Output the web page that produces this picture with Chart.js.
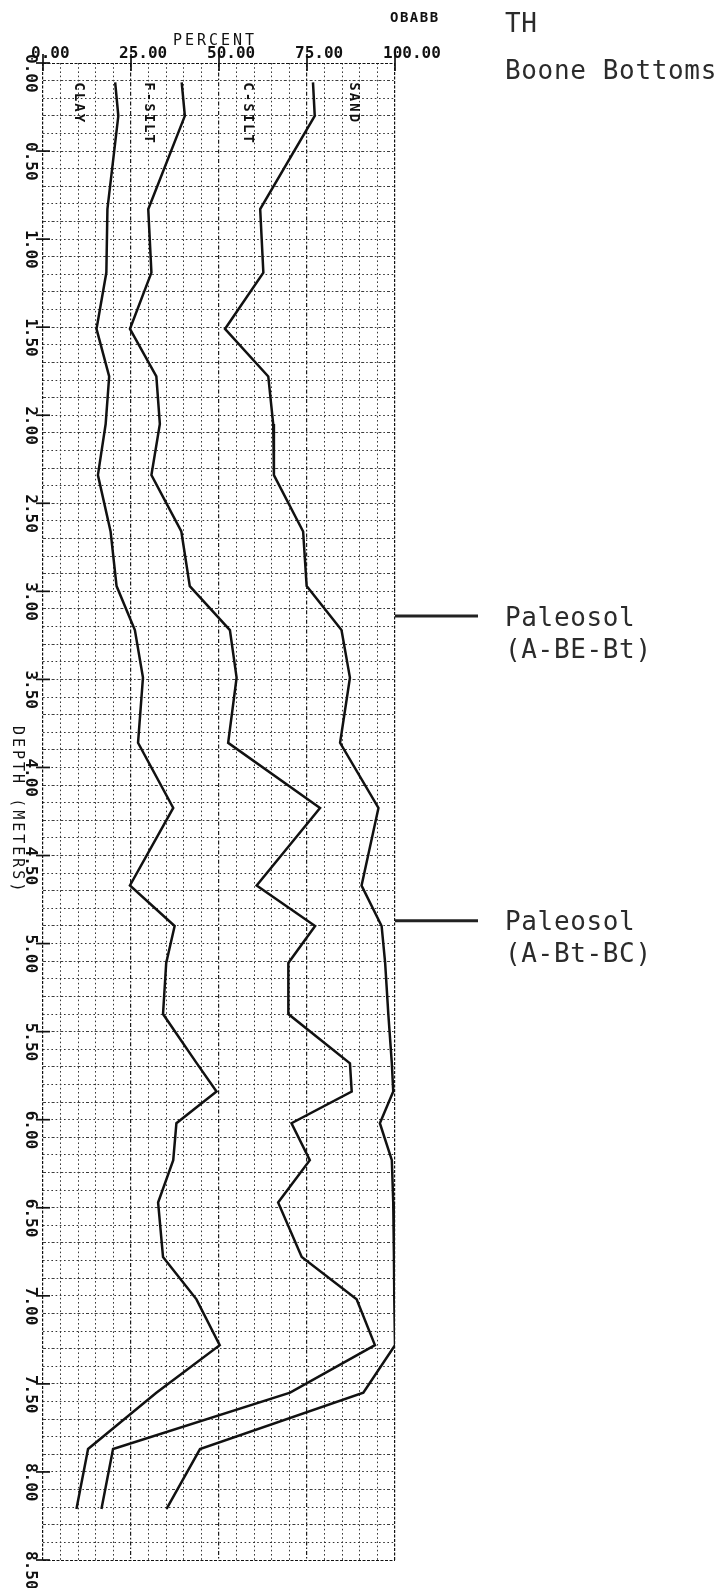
<!DOCTYPE html>
<html>
<head>
<meta charset="utf-8">
<script src="https://cdn.jsdelivr.net/npm/chart.js@4.4.1/dist/chart.umd.min.js"></script>
<style>
html,body{margin:0;padding:0;background:#fff;}
#wrap{position:relative;width:721px;height:1588px;overflow:hidden;background:#fff;}
#c{position:absolute;left:0;top:0;}
.note{position:absolute;left:505px;font-family:"DejaVu Sans Mono",monospace;font-size:26px;line-height:32px;color:#2b2b2b;letter-spacing:0.65px;white-space:pre;}
</style>
</head>
<body>
<div id="wrap">
<canvas id="c" width="721" height="1588"></canvas>
<div class="note" id="h0"></div>
<div class="note" id="h1"></div>
<div class="note" id="p0"></div>
<div class="note" id="p1"></div>
</div>
<script>
// ---- data ----
const depths = [0.11, 0.30, 0.83, 1.19, 1.51, 1.78, 2.05, 2.34, 2.66, 2.97, 3.22, 3.49, 3.86, 4.23, 4.67, 4.90, 5.11, 5.40, 5.68, 5.84, 6.02, 6.23, 6.47, 6.78, 7.02, 7.28, 7.55, 7.87, 8.21];
// cumulative percent: clay
const clayCum = [20.5, 21.4, 18.3, 18.0, 15.2, 18.8, 17.8, 15.6, 19.2, 20.9, 26.1, 28.4, 27.0, 37.0, 24.7, 37.4, 35.0, 34.1, 43.7, 49.3, 37.9, 37.0, 32.7, 34.1, 43.6, 50.2, 32.2, 12.8, 9.5];
// cumulative percent: clay + fine silt
const fineSiltCum = [39.4, 40.3, 29.9, 30.8, 24.7, 32.2, 33.2, 30.8, 39.3, 41.7, 53.1, 55.0, 52.6, 78.7, 60.7, 77.3, 69.7, 69.7, 87.2, 87.7, 70.6, 75.8, 66.8, 73.5, 89.1, 94.3, 70.2, 19.9, 16.6];
// cumulative percent: clay + fine silt + coarse silt
const coarseSiltCum = [76.7, 77.2, 61.7, 62.6, 51.7, 64.0, 65.4, 65.6, 73.9, 74.9, 84.8, 87.2, 84.4, 95.3, 90.5, 96.2, 97.2, 98.1, 99.1, 99.5, 95.7, 99.1, 99.5, 99.7, 99.8, 100, 91.0, 44.6, 35.1];
const bandNames = ['CLAY', 'F-SILT', 'C-SILT', 'SAND'];
const percentTickLabels = ['0.00', '25.00', '50.00', '75.00', '100.00'];
const depthTickLabels = ['0.00','0.50','1.00','1.50','2.00','2.50','3.00','3.50','4.00','4.50','5.00','5.50','6.00','6.50','7.00','7.50','8.00','8.50'];
const xTitle = 'PERCENT';
const yTitle = 'DEPTH (METERS)';
const plotCode = 'OBABB';
const headerLines = ['TH', 'Boone Bottoms'];
const paleosolDepths = [3.14, 4.87];
const paleosolNames = ['Paleosol', 'Paleosol'];
const paleosolHorizons = ['(A-BE-Bt)', '(A-Bt-BC)'];

// ---- build ----
const toPts = arr => arr.map((v, i) => ({x: v, y: depths[i]}));
const lineStyle = {showLine: true, borderColor: '#111', borderWidth: 2.5, pointRadius: 0, tension: 0, fill: false};
const datasets = [
  Object.assign({label: bandNames[0], data: toPts(clayCum)}, lineStyle),
  Object.assign({label: bandNames[1], data: toPts(fineSiltCum)}, lineStyle),
  Object.assign({label: bandNames[2], data: toPts(coarseSiltCum)}, lineStyle)
];

const near = (v, step) => Math.abs(v / step - Math.round(v / step)) < 1e-6;
const isEdgeY = v => Math.abs(v) < 1e-6 || Math.abs(v - 8.5) < 1e-6;

function gridColorX(ctx) {
  const t = ctx.tick; if (!t) return '#333';
  if (near(t.value, 100)) return '#111';
  return near(t.value, 25) ? '#1c1c1c' : '#383838';
}
function gridDashX(ctx) {
  const t = ctx.tick; if (!t) return [];
  if (near(t.value, 100)) return [3, 1.5];
  return near(t.value, 25) ? [4, 2, 1.6, 2] : [1.6, 2.6];
}
function gridColorY(ctx) {
  const t = ctx.tick; if (!t) return '#333';
  if (isEdgeY(t.value)) return '#111';
  return near(t.value, 0.2) ? '#333' : '#3c3c3c';
}
function gridDashY(ctx) {
  const t = ctx.tick; if (!t) return [];
  if (isEdgeY(t.value)) return [3, 1.5];
  return near(t.value, 0.2) ? [1.6, 2.6] : [3, 2, 1.6, 2];
}

const deco = {
  id: 'deco',
  afterDraw(chart) {
    const {ctx, chartArea: a, scales: {x, y}} = chart;
    const seg = (x1, y1, x2, y2) => { ctx.beginPath(); ctx.moveTo(x1, y1); ctx.lineTo(x2, y2); ctx.stroke(); };
    ctx.save();
    ctx.setLineDash([]);
    ctx.strokeStyle = '#111';
    ctx.lineWidth = 1.7;
    percentTickLabels.forEach(l => { const px = x.getPixelForValue(parseFloat(l)); seg(px, a.top - 9, px, a.top + 8); });
    depthTickLabels.forEach(l => { const py = y.getPixelForValue(parseFloat(l)); seg(a.left - 7, py, a.left + 7, py); });

    ctx.fillStyle = '#111';
    ctx.font = 'bold 16px "DejaVu Sans Mono"';
    ctx.textAlign = 'left';
    ctx.textBaseline = 'alphabetic';
    percentTickLabels.forEach(l => ctx.fillText(l, x.getPixelForValue(parseFloat(l)) - 12, a.top - 5));

    depthTickLabels.forEach(l => {
      const py = y.getPixelForValue(parseFloat(l));
      ctx.save(); ctx.translate(30, py - 9); ctx.rotate(Math.PI / 2);
      ctx.textBaseline = 'middle'; ctx.fillText(l, 0, 0); ctx.restore();
    });

    // titles
    ctx.font = '15px "DejaVu Sans Mono"';
    ctx.letterSpacing = '3px';
    ctx.textAlign = 'center';
    ctx.fillText(xTitle, (a.left + a.right) / 2 - 4, a.top - 18);
    ctx.save(); ctx.translate(17, 726); ctx.rotate(Math.PI / 2);
    ctx.textAlign = 'left'; ctx.textBaseline = 'middle'; ctx.fillText(yTitle, 0, 0); ctx.restore();
    ctx.letterSpacing = '1.5px';
    ctx.font = 'bold 14px "DejaVu Sans Mono"';
    ctx.textAlign = 'left';
    ctx.fillText(plotCode, 390, 22);

    // band names, rotated, centred in each band at the first sample
    const bounds = [0, clayCum[0], fineSiltCum[0], coarseSiltCum[0], 100];
    ctx.letterSpacing = '2px';
    ctx.font = 'bold 14px "DejaVu Sans Mono"';
    const y0 = y.getPixelForValue(depths[0]);
    bandNames.forEach((n, i) => {
      const px = x.getPixelForValue((bounds[i] + bounds[i + 1]) / 2);
      ctx.save(); ctx.translate(px, y0); ctx.rotate(Math.PI / 2);
      ctx.textAlign = 'left'; ctx.textBaseline = 'middle'; ctx.fillText(n, 0, 0); ctx.restore();
    });
    ctx.letterSpacing = '0px';

    // paleosol leader lines
    ctx.lineWidth = 3;
    ctx.strokeStyle = '#222';
    paleosolDepths.forEach((d, i) => {
      const py = y.getPixelForValue(d);
      seg(x.getPixelForValue(100), py, 478, py);
      const el = document.getElementById('p' + i);
      el.textContent = paleosolNames[i] + '\n' + paleosolHorizons[i];
      el.style.top = (py + 10 - 25.3) + 'px';
    });
    ctx.restore();
  }
};

document.getElementById('h0').textContent = headerLines[0];
document.getElementById('h0').style.top = (32 - 25.3) + 'px';
document.getElementById('h1').textContent = headerLines[1];
document.getElementById('h1').style.top = (79 - 25.3) + 'px';

new Chart(document.getElementById('c'), {
  type: 'scatter',
  data: {datasets},
  options: {
    responsive: false,
    animation: false,
    devicePixelRatio: 1,
    events: [],
    layout: {padding: {left: 43, top: 63, right: 326, bottom: 28}},
    plugins: {legend: {display: false}, tooltip: {enabled: false}},
    scales: {
      x: {
        type: 'linear', position: 'top', min: 0, max: 100,
        ticks: {display: false, stepSize: 5, maxTicksLimit: 1000},
        grid: {drawTicks: false, color: gridColorX, lineWidth: c => (c.tick && near(c.tick.value, 25)) ? 1.2 : 1},
        border: {display: false, dash: gridDashX}
      },
      y: {
        type: 'linear', reverse: true, min: 0, max: 8.5,
        ticks: {display: false, stepSize: 0.1, maxTicksLimit: 1000},
        grid: {drawTicks: false, color: gridColorY, lineWidth: 1},
        border: {display: false, dash: gridDashY}
      }
    }
  },
  plugins: [deco]
});
</script>
</body>
</html>
